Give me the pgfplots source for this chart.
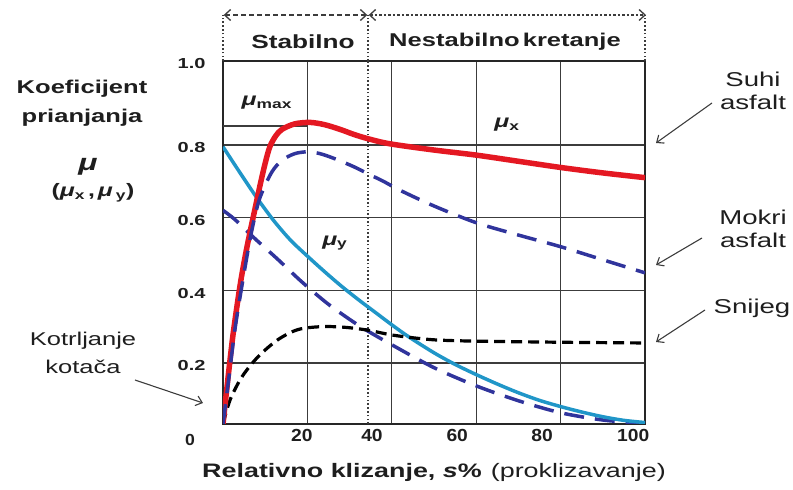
\documentclass[border=0pt]{standalone}
\usepackage{fontspec}
\setmainfont{Liberation Sans}[FakeStretch=1.38]
\newfontfamily\tickfont{Liberation Sans}[FakeStretch=1.1]
\usepackage{pgfplots}
\pgfplotsset{compat=1.18}
\usetikzlibrary{arrows.meta}
\definecolor{dryred}{RGB}{228,24,34}
\definecolor{wetblue}{RGB}{48,52,156}
\definecolor{cyanline}{RGB}{32,150,200}
\definecolor{gridc}{RGB}{60,60,60}
\definecolor{txt}{RGB}{30,30,30}
\newcommand{\fs}[1]{\fontsize{#1}{#1}\selectfont}
\newcommand{\mub}{\textbf{\textit{μ}}}

\begin{document}
\begin{tikzpicture}[x=1pt,y=1pt]
\path[use as bounding box] (-223,-66) rectangle (570,424);
\begin{axis}[
  at={(0,0)}, anchor=south west,
  scale only axis, width=422pt, height=363pt,
  xmin=0, xmax=100, ymin=0.032, ymax=1.031,
  axis line style={line width=2pt, draw=black!85},
  xtick={20,40,60,80}, xticklabels={},
  extra x ticks={18.7,35.3,55.5,75.6,97.2},
  extra x tick labels={20,40,60,80,100},
  extra x tick style={grid=none},
  xticklabel style={font=\tickfont\bfseries\fs{17.5}, text=txt, yshift=-2pt},
  ytick={0.2,0.4,0.6,0.8}, yticklabels={0.2,0.4,0.6,0.8},
  extra y ticks={1.031}, extra y tick labels={1.0},
  extra y tick style={grid=none},
  yticklabel style={font=\bfseries\fs{14.5}, text=txt, xshift=-14pt, yshift=-3pt},
  major tick length=0pt,
  grid=major, major grid style={line width=1.3pt, draw=gridc},
]
\draw[line width=1.3pt, gridc] (axis cs:0,0.852) -- (axis cs:20,0.852);
\draw[line width=1.4pt, gridc, dash pattern=on 1.6pt off 2.2pt] (axis cs:34.4,0.032) -- (axis cs:34.4,1.031);

% mu_y wet (lower blue dashed)
\addplot[wetblue, line width=3.5pt, dash pattern=on 20pt off 11pt, smooth] coordinates {
(0,0.62) (2.8,0.595) (7.3,0.545) (13,0.485) (18.5,0.425) (24.6,0.365) (30,0.32) (34,0.29) (40,0.25) (50,0.187) (60,0.137) (70,0.096) (80,0.063) (90,0.043) (100,0.033)};
% mu_y dry (cyan)
\addplot[cyanline, line width=3.5pt, smooth] coordinates {
(0,0.795) (4,0.724) (8,0.655) (12,0.592) (16,0.538) (20,0.494) (24,0.452) (28,0.412) (32,0.375) (36,0.34) (40,0.305) (44,0.272) (50,0.228) (55,0.196) (60,0.168) (65,0.142) (70,0.118) (75,0.097) (80,0.08) (85,0.065) (90,0.052) (95,0.042) (100,0.036)};
% snow
\addplot[black, line width=3.2pt, dash pattern=on 11pt off 6pt, smooth] coordinates {
(0,0.032) (1.7,0.099) (4.5,0.162) (8.3,0.217) (13,0.264) (17.8,0.292) (23.5,0.30) (29,0.298) (34.4,0.29) (40,0.277) (46,0.268) (51,0.263) (60,0.26) (80,0.257) (100,0.255)};
% dry mu_x (red)
\addplot[dryred, line width=5.5pt, smooth] coordinates {
(0,0.032) (1.2,0.16) (2.4,0.28) (4,0.41) (5.2,0.49) (6.4,0.56) (7.6,0.625) (8.8,0.69) (10,0.75) (11.1,0.795) (12.5,0.825) (14,0.843) (17,0.858) (20.6,0.862) (24,0.856) (27.7,0.843) (31,0.829) (34.4,0.817) (39.6,0.803) (50,0.786) (60,0.772) (70,0.755) (80,0.738) (90,0.723) (100,0.71)};
% wet mu_x (blue dashed)
\addplot[wetblue, line width=3.5pt, dash pattern=on 20pt off 11pt, smooth] coordinates {
(0,0.032) (1.4,0.16) (2.8,0.29) (4.3,0.40) (6.4,0.54) (8,0.625) (9.2,0.668) (11.6,0.726) (14,0.758) (17,0.776) (20,0.781) (23,0.776) (26.5,0.762) (31,0.74) (34.8,0.718) (38,0.70) (42,0.675) (50,0.632) (60,0.586) (70,0.552) (80,0.52) (90,0.484) (100,0.448)};

\node[text=txt] at (axis cs:10.4,0.916) {\fs{18}\mub\textsubscript{\textbf{max}}};
\node[text=txt] at (axis cs:67.3,0.855) {\fs{18}\mub\textsubscript{\textbf{x}}};
\node[text=txt] at (axis cs:26.5,0.53) {\fs{18}\mub\textsubscript{\textbf{y}}};
\end{axis}

% top region
\draw[line width=1.4pt, gridc, dash pattern=on 1.6pt off 2.2pt] (0,363) -- (0,409);
\draw[line width=1.4pt, gridc, dash pattern=on 1.6pt off 2.2pt] (145,363) -- (145,409);
\draw[line width=1.4pt, gridc, dash pattern=on 1.6pt off 2.2pt] (422,363) -- (422,409);
\draw[line width=1.3pt, gridc, dash pattern=on 5pt off 3pt, {Straight Barb[length=6pt,width=11pt]}-{Straight Barb[length=6pt,width=11pt]}] (0.7,409) -- (144.3,409);
\draw[line width=1.3pt, gridc, dash pattern=on 2.5pt off 2pt, {Straight Barb[length=6pt,width=11pt]}-{Straight Barb[length=6pt,width=11pt]}] (145.7,409) -- (423,409);
\node[text=txt] at (80,382) {\fs{19}\bfseries Stabilno};
\node[text=txt] at (282,382) {\fs{18.5}\bfseries Nestabilno\,kretanje};

% left labels
\node[text=txt, align=center] at (-141,321) {\fs{18.5}\bfseries Koeficijent\\[11pt]\fs{18.5}\bfseries prianjanja};
\node[text=txt] at (-135,257) {\fs{23}\mub};
\node[text=txt] at (-130,231) {\fs{18}\textbf{(\textit{μ}\textsubscript{x}\,,\,\textit{μ}\,\textsubscript{y})}};
\node[text=txt, align=center] at (-140,71) {\fs{18.5}Kotrljanje\\[10pt]\fs{18.5}kotača};
\draw[line width=1.1pt, gridc, -{Straight Barb[length=6pt,width=10pt]}] (-88,44) -- (-20,21);
\node[text=txt] at (-33,-16) {\tickfont\bfseries\fs{16}0};

% right labels
\node[text=txt, align=center] at (530,333) {\fs{20}Suhi\\[8pt]\fs{20}asfalt};
\draw[line width=1.1pt, gridc, -{Straight Barb[length=6pt,width=10pt]}] (489,321) -- (433,281);
\node[text=txt, align=center] at (530,195) {\fs{20}Mokri\\[8pt]\fs{20}asfalt};
\draw[line width=1.1pt, gridc, -{Straight Barb[length=6pt,width=10pt]}] (479,186) -- (433,159);
\node[text=txt] at (529,116) {\fs{20}Snijeg};
\draw[line width=1.1pt, gridc, -{Straight Barb[length=6pt,width=10pt]}] (482,114) -- (433,82);

% x label
\node[text=txt] at (211,-48) {\fs{19.5}\textbf{Relativno klizanje, \textit{s}\%}\hspace{9pt}(proklizavanje)};
\end{tikzpicture}
\end{document}
